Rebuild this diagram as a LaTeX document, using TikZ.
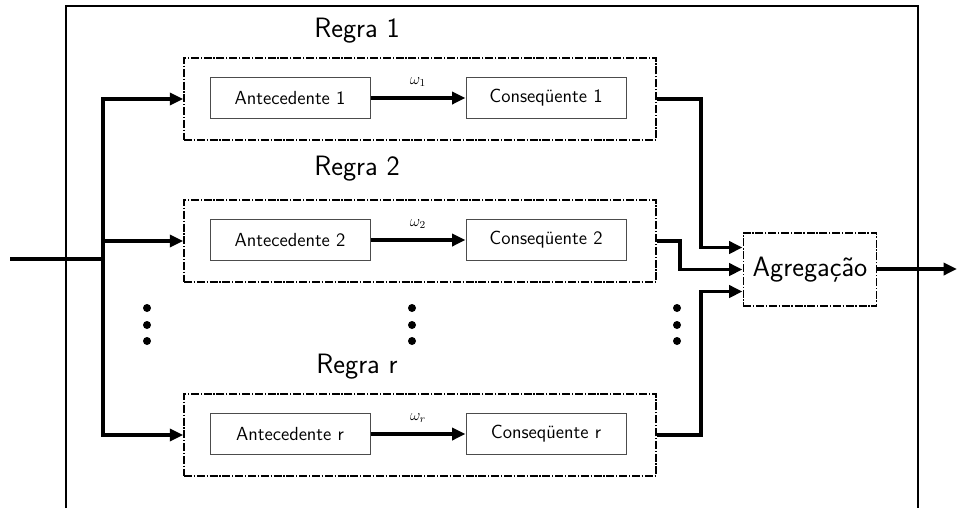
\documentclass[tikz,border=0pt]{standalone}
\usepackage{amsmath}
\usetikzlibrary{arrows.meta,calc}
\tikzset{rulebox/.style={draw, dash pattern=on 6pt off 1.3pt on 1pt off 1.3pt, line width=1.2pt, minimum width=354pt, minimum height=61.5pt, inner sep=0pt},
  block/.style={draw, black!70, text=black, line width=0.75pt, minimum width=120pt, minimum height=31pt, inner sep=0pt, font=\sffamily\fontsize{14.2}{16}\selectfont},
  title/.style={font=\sffamily\fontsize{21}{24}\selectfont},
  flow/.style={line width=2.6pt, -{Triangle[length=10pt,width=9pt]}},
  wire/.style={line width=2.6pt}}

\begin{document}
\begin{tikzpicture}[x=0.75pt,y=-0.75pt]
        \useasboundingbox (0,0) rectangle (957,508);
        \draw[line width=1.2pt](66,508)--(66,6)--(918,6)--(918,508);

        \node[rulebox](r1)at(420,99){};
        \node[rulebox](r2)at(420,241){};
        \node[rulebox](rr)at(420,435){};

        \node[title](t1)at(357,31){Regra 1};
        \node[title](t2)at(357,169){Regra 2};
        \node[title](tr)at(357,367){Regra r};

        \node[block](ant1)at(290,98){Antecedente 1};
        \node[block](con1)at(546,98){Conseq\"uente 1};
        \node[block](ant2)at(290,240){Antecedente 2};
        \node[block](con2)at(546,240){Conseq\"uente 2};
        \node[block](antr)at(290,434){Antecedente r};
        \node[block](conr)at(546,434){Conseq\"uente r};

        \draw[flow](ant1)--node[above=4pt, font=\fontsize{12}{14}\selectfont]{$\omega_1$}(con1);
        \draw[flow](ant2)--node[above=4pt, font=\fontsize{12}{14}\selectfont]{$\omega_2$}(con2);
        \draw[flow](antr)--node[above=4pt, font=\fontsize{12}{14}\selectfont]{$\omega_r$}(conr);

        \node[draw, dash pattern=on 6pt off 1.3pt on 1pt off 1.3pt, line width=1.2pt, minimum width=100pt, minimum height=55pt, inner sep=0pt, font=\sffamily\fontsize{21}{24}\selectfont](agg)at(810,269.5){Agrega\c{c}\~ao};

        \coordinate(in)at(10,259);
        \coordinate(bus)at(103,259);
        \coordinate(out)at(957,269);
        \coordinate(a1)at($(agg.west)+(0,-22)$);
        \coordinate(a3)at($(agg.west)+(0,22)$);

        \draw[wire](in)--(bus);
        \draw[flow](bus)|-(r1.west);
        \draw[flow](bus)--(r2.west-|bus)--(r2.west);
        \draw[flow](bus)|-(rr.west);

        \draw[flow](r1.east)--++(44,0)|-(a1);
        \draw[flow](r2.east)--++(23,0)|-(agg.west);
        \draw[flow](rr.east)--++(44,0)|-(a3);
        \draw[flow](agg.east|-out)--(out);

        \foreach \x in {147,412,677}
          \foreach \y in {308,325,341}
            \fill(\x,\y)circle(4);
    \end{tikzpicture}
\end{document}
